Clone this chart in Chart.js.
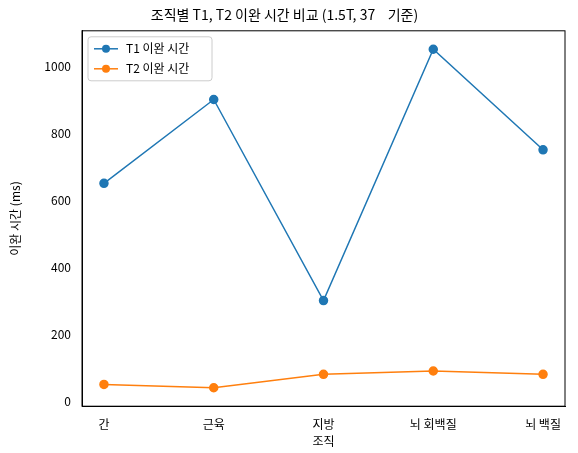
<!DOCTYPE html>
<html><head><meta charset="utf-8">
<script src="https://cdn.jsdelivr.net/npm/chart.js@4/dist/chart.umd.min.js"></script>
<style>html,body{margin:0;padding:0;background:#fff}#w{width:578px;height:453px}</style>
</head><body><div id="w"><canvas id="c"></canvas></div>
<script>
const categories = ['간','근육','지방','뇌 회백질','뇌 백질'];
const t1Values = [650, 900, 300, 1050, 750];
const t2Values = [50, 40, 80, 90, 80];
const yTicks = [0, 200, 400, 600, 800, 1000];
const F = "'Noto Sans CJK KR', 'Noto Sans', sans-serif";
Chart.defaults.font.family = F;
Chart.defaults.color = '#000';
const series = [
  { label: 'T1 이완 시간', data: t1Values, color: '#1f77b4' },
  { label: 'T2 이완 시간', data: t2Values, color: '#ff7f0e' }
];
new Chart(document.getElementById('c'), {
  type: 'line',
  data: { datasets: series.map(s => ({ label: s.label, data: s.data.map((v, i) => ({ x: i, y: v })), borderColor: s.color, backgroundColor: s.color, pointRadius: 4, borderWidth: 1.5 })) },
  options: {
    responsive: true, maintainAspectRatio: false, animation: false,
    layout: { padding: { left: 4, right: 13, top: 4, bottom: 4 } },
    plugins: {
      title: { display: true, text: '조직별 T1, T2 이완 시간 비교 (1.5T, 37    기준)', font: { size: 14, weight: 'normal' }, padding: { top: 2, bottom: 8 } },
      legend: { display: false },
      tooltip: { enabled: false }
    },
    scales: {
      x: { type: 'linear', min: -0.2, max: 4.2, grid: { display: false }, border: { color: '#000' },
           title: { display: true, text: '조직', font: { size: 12 }, padding: 0 },
           afterBuildTicks: a => { a.ticks = categories.map((c, i) => ({ value: i })); },
           ticks: { font: { size: 12 }, callback: v => categories[v] } },
      y: { min: -15, max: 1105, grid: { display: false }, border: { color: '#000' },
           title: { display: true, text: '이완 시간 (ms)', font: { size: 12 } },
           afterFit: s => { s.width = 78; },
           afterBuildTicks: a => { a.ticks = yTicks.map(v => ({ value: v })); },
           ticks: { font: { size: 12 }, callback: v => String(v) } }
    }
  },
  plugins: [{ id: 'box', afterDraw(ch) {
    const a = ch.chartArea, c = ch.ctx; c.save();
    c.strokeStyle = '#000'; c.lineWidth = 1; c.strokeRect(a.left, a.top, a.right - a.left, a.bottom - a.top);
    const x0 = a.left + 6, y0 = a.top + 6, w = 124, h = 44;
    c.fillStyle = 'rgba(255,255,255,0.8)'; c.strokeStyle = '#ccc';
    c.beginPath(); c.roundRect(x0, y0, w, h, 3); c.fill(); c.stroke();
    c.font = '12px ' + F; c.textBaseline = 'middle';
    series.forEach((s, i) => {
      const yy = y0 + 12 + i * 20;
      c.strokeStyle = s.color; c.lineWidth = 1.5;
      c.beginPath(); c.moveTo(x0 + 6, yy); c.lineTo(x0 + 30, yy); c.stroke();
      c.fillStyle = s.color; c.beginPath(); c.arc(x0 + 18, yy, 4, 0, Math.PI * 2); c.fill();
      c.fillStyle = '#000'; c.fillText(s.label, x0 + 38, yy);
    });
    c.restore();
  } }]
});
</script></body></html>
